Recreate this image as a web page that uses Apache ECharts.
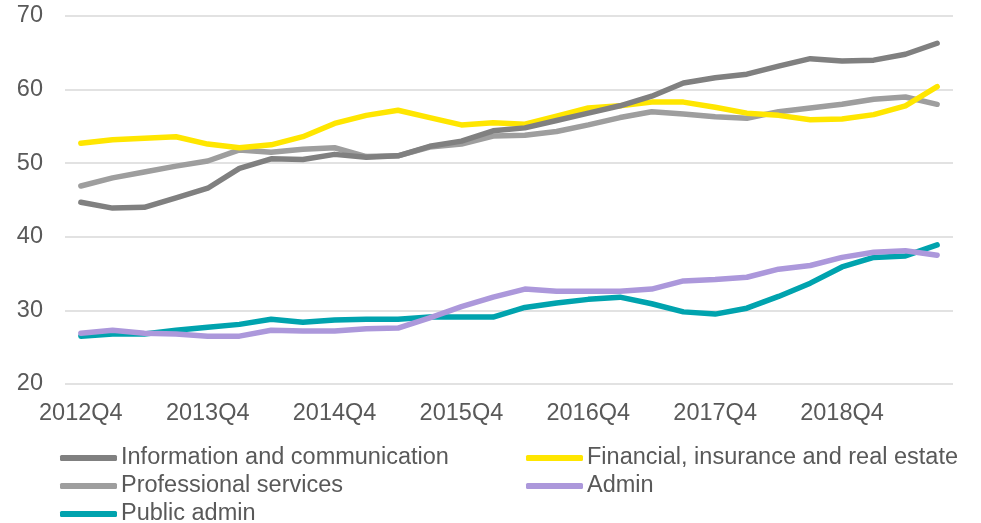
<!DOCTYPE html>
<html>
<head>
<meta charset="utf-8">
<script src="https://cdn.jsdelivr.net/npm/echarts@6/dist/echarts.min.js"></script>
<style>
html,body{margin:0;padding:0;background:#fff;}
#chart{width:981px;height:523px;}
</style>
</head>
<body>
<div id="chart"></div>
<script>
const categories = [
  "2012Q4","2013Q1","2013Q2","2013Q3","2013Q4","2014Q1","2014Q2","2014Q3",
  "2014Q4","2015Q1","2015Q2","2015Q3","2015Q4","2016Q1","2016Q2","2016Q3",
  "2016Q4","2017Q1","2017Q2","2017Q3","2017Q4","2018Q1","2018Q2","2018Q3",
  "2018Q4","2019Q1","2019Q2","2019Q3"
];
const infoComm = [44.7,43.9,44.0,45.3,46.6,49.3,50.6,50.5,51.2,50.8,51.0,52.3,53.0,54.4,54.8,55.8,56.8,57.8,59.1,60.9,61.6,62.1,63.2,64.2,63.9,64.0,64.8,66.3];
const financial = [52.7,53.2,53.4,53.6,52.6,52.1,52.5,53.6,55.4,56.5,57.2,56.2,55.2,55.5,55.3,56.4,57.5,57.8,58.3,58.3,57.6,56.8,56.5,55.9,56.0,56.6,57.8,60.4];
const professional = [46.9,48.0,48.8,49.6,50.3,51.8,51.5,51.9,52.1,50.9,51.0,52.2,52.6,53.7,53.8,54.3,55.2,56.2,57.0,56.7,56.3,56.1,57.0,57.5,58.0,58.7,59.0,58.0];
const admin = [26.9,27.3,26.9,26.8,26.5,26.5,27.3,27.2,27.2,27.5,27.6,29.0,30.5,31.8,32.9,32.6,32.6,32.6,32.9,34.0,34.2,34.5,35.6,36.1,37.2,37.9,38.1,37.5];
const publicAdmin = [26.5,26.8,26.8,27.3,27.7,28.1,28.8,28.4,28.7,28.8,28.8,29.1,29.1,29.1,30.4,31.0,31.5,31.8,30.9,29.8,29.5,30.3,31.9,33.7,35.9,37.2,37.4,38.9];

const seriesNames = [
  "Information and communication",
  "Financial, insurance and real estate",
  "Professional services",
  "Admin",
  "Public admin"
];
const seriesData = [infoComm, financial, professional, admin, publicAdmin];
const colors = ["#808080", "#FFE600", "#9E9E9E", "#AC98DB", "#00A3AE"];

const FONT = "Liberation Sans, Arial, sans-serif";
const TXT = "#595959";
const FS = 23.5;

const legendPos = [
  {left: 60, cy: 458},
  {left: 526, cy: 458},
  {left: 60, cy: 486},
  {left: 526, cy: 486},
  {left: 60, cy: 514}
];

const chart = echarts.init(document.getElementById('chart'), null, {renderer: 'canvas'});
chart.setOption({
  backgroundColor: '#ffffff',
  animation: false,
  grid: {left: 65, right: 28, top: 16, bottom: 139, containLabel: false},
  xAxis: {
    type: 'category',
    data: categories,
    boundaryGap: true,
    axisLine: {show: false},
    axisTick: {show: false},
    axisLabel: {interval: 3, color: TXT, fontSize: FS, fontFamily: FONT, margin: 18}
  },
  yAxis: {
    type: 'value',
    min: 20, max: 70, interval: 10,
    axisLine: {show: false},
    axisTick: {show: false},
    axisLabel: {color: TXT, fontSize: FS, fontFamily: FONT, margin: 22},
    splitLine: {lineStyle: {color: '#D9D9D9', width: 1.5}}
  },
  legend: seriesNames.map((n, i) => ({
    data: [{name: n, icon: 'roundRect'}],
    left: legendPos[i].left,
    top: legendPos[i].cy - 12,
    padding: 0,
    itemWidth: 57,
    itemHeight: 6,
    itemGap: 0,
    selectedMode: false,
    textStyle: {color: TXT, fontSize: FS, fontFamily: FONT, lineHeight: 24, padding: [0,0,0,-1]}
  })),
  series: seriesNames.map((n, i) => ({
    name: n,
    type: 'line',
    data: seriesData[i],
    symbol: 'none',
    lineStyle: {color: colors[i], width: 5.5, cap: 'round', join: 'round'},
    itemStyle: {color: colors[i]},
    z: 10 - i
  }))
});
</script>
</body>
</html>
